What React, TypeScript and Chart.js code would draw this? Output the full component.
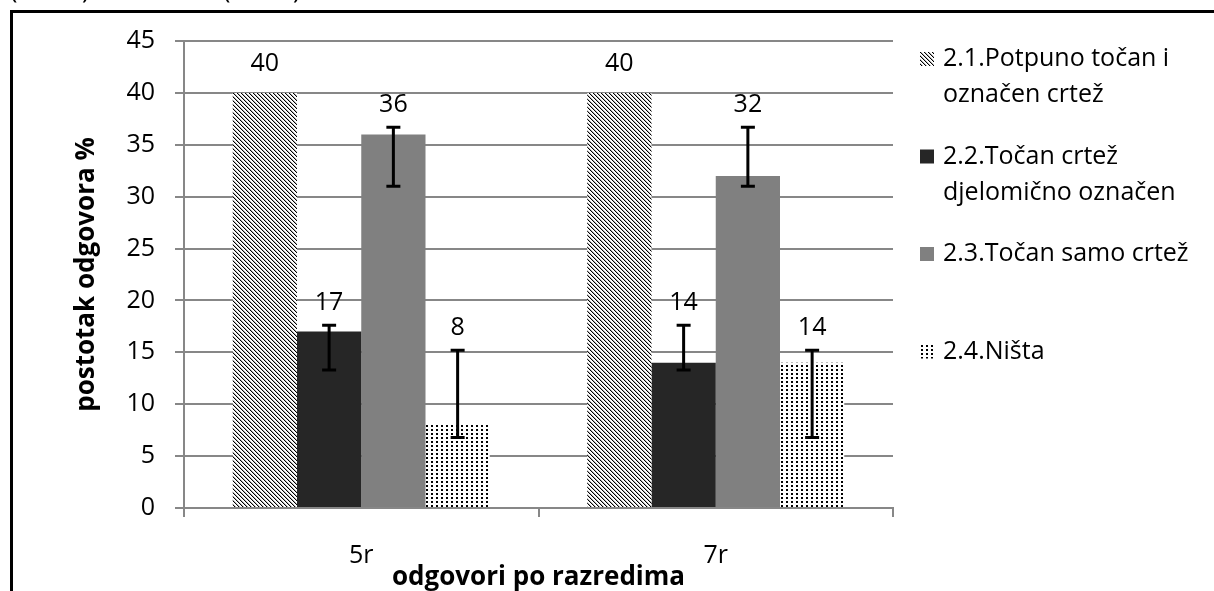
import React, { useEffect, useRef } from 'react';
import { Chart, registerables } from 'chart.js';

Chart.register(...registerables);

// ---- data ----
const categories = ['5r', '7r'];
const seriesLabels = [
  '2.1.Potpuno točan i označen crtež',
  '2.2.Točan crtež djelomično označen',
  '2.3.Točan samo crtež',
  '2.4.Ništa',
];
const potpunoTocan = [40, 40];
const djelomicnoOznacen = [17, 14];
const samoCrtez = [36, 32];
const nista = [8, 14];

const djelomicnoErrLow = [13.3, 13.3];
const djelomicnoErrHigh = [17.6, 17.6];
const samoCrtezErrLow = [31.0, 31.0];
const samoCrtezErrHigh = [36.7, 36.7];
const nistaErrLow = [6.8, 6.8];
const nistaErrHigh = [15.2, 15.2];

const yMin = 0;
const yMax = 45;
const yStep = 5;
const xTitle = 'odgovori po razredima';
const yTitle = 'postotak odgovora %';
const cutHeaderGlyphs = ['(', ')', '(', ')'];

const FONT = '"Open Sans", "DejaVu Sans", sans-serif';

function makeHatch(): CanvasPattern | string {
  const c = document.createElement('canvas');
  c.width = 4;
  c.height = 4;
  const g = c.getContext('2d');
  if (!g) return '#777';
  g.fillStyle = '#fff';
  g.fillRect(0, 0, 4, 4);
  for (let i = 0; i < 4; i++) {
    g.fillStyle = '#000';
    g.fillRect(i, i, 1, 1);
    g.fillStyle = '#b4b4b4';
    g.fillRect((i + 1) % 4, i, 1, 1);
  }
  return g.createPattern(c, 'repeat') || '#777';
}

function makeDots(): CanvasPattern | string {
  const c = document.createElement('canvas');
  c.width = 5;
  c.height = 4;
  const g = c.getContext('2d');
  if (!g) return '#ccc';
  g.fillStyle = '#fff';
  g.fillRect(0, 0, 5, 4);
  g.fillStyle = '#000';
  g.fillRect(1, 1, 2, 2);
  return g.createPattern(c, 'repeat') || '#ccc';
}

function wrapText(ctx: CanvasRenderingContext2D, text: string, maxW: number): string[] {
  const words = text.split(' ');
  const lines: string[] = [];
  let cur = '';
  for (const w of words) {
    const test = cur ? cur + ' ' + w : w;
    if (ctx.measureText(test).width > maxW && cur) {
      lines.push(cur);
      cur = w;
    } else {
      cur = test;
    }
  }
  if (cur) lines.push(cur);
  return lines;
}

const errorBarsPlugin = {
  id: 'errorBars',
  afterDatasetsDraw(chart: any) {
    const ctx = chart.ctx as CanvasRenderingContext2D;
    const yScale = chart.scales.y;
    ctx.save();
    ctx.strokeStyle = '#000';
    ctx.lineWidth = 3;
    chart.data.datasets.forEach((ds: any, di: number) => {
      if (!ds.errLow || !ds.errHigh) return;
      const meta = chart.getDatasetMeta(di);
      meta.data.forEach((bar: any, i: number) => {
        const x = bar.x;
        const yl = yScale.getPixelForValue(ds.errLow[i]);
        const yh = yScale.getPixelForValue(ds.errHigh[i]);
        ctx.beginPath();
        ctx.moveTo(x, yl);
        ctx.lineTo(x, yh);
        ctx.moveTo(x - 7, yl);
        ctx.lineTo(x + 7, yl);
        ctx.moveTo(x - 7, yh);
        ctx.lineTo(x + 7, yh);
        ctx.stroke();
      });
    });
    ctx.restore();
  },
};

const valueLabelsPlugin = {
  id: 'valueLabels',
  afterDatasetsDraw(chart: any) {
    const ctx = chart.ctx as CanvasRenderingContext2D;
    const yScale = chart.scales.y;
    ctx.save();
    ctx.font = `25px ${FONT}`;
    ctx.fillStyle = '#000';
    ctx.textAlign = 'center';
    ctx.textBaseline = 'alphabetic';
    chart.data.datasets.forEach((ds: any, di: number) => {
      const meta = chart.getDatasetMeta(di);
      meta.data.forEach((bar: any, i: number) => {
        let y: number;
        if (ds.errHigh) {
          y = Math.min(bar.y, yScale.getPixelForValue(ds.errHigh[i])) - 15;
        } else {
          y = bar.y - 22;
        }
        ctx.fillText(String(ds.data[i]), bar.x, y);
      });
    });
    ctx.restore();
  },
};

const sideLegendPlugin = {
  id: 'sideLegend',
  afterDraw(chart: any) {
    const ctx = chart.ctx as CanvasRenderingContext2D;
    ctx.save();
    ctx.font = `25px ${FONT}`;
    ctx.textBaseline = 'alphabetic';
    ctx.textAlign = 'left';
    const markerX = 920;
    const textX = 943;
    const firstBase = 66;
    const step = 97.5;
    const lineH = 36;
    chart.data.datasets.forEach((ds: any, i: number) => {
      const base = firstBase + i * step;
      ctx.fillStyle = ds.backgroundColor;
      ctx.fillRect(markerX, base - 14, 14, 14);
      ctx.fillStyle = '#000';
      wrapText(ctx, ds.label, 262).forEach((line, j) => {
        ctx.fillText(line, textX, base + j * lineH);
      });
    });
    ctx.restore();
  },
};

const frameGlyphXs = [10, 82, 223, 293];

const framePlugin = {
  id: 'frame',
  afterDraw(chart: any) {
    const ctx = chart.ctx as CanvasRenderingContext2D;
    ctx.save();
    ctx.strokeStyle = '#000';
    ctx.lineWidth = 3;
    ctx.strokeRect(11.5, 11.5, 1400, 800);
    ctx.font = `25px ${FONT}`;
    ctx.fillStyle = '#000';
    ctx.textBaseline = 'alphabetic';
    cutHeaderGlyphs.forEach((g, i) => {
      ctx.fillText(g, frameGlyphXs[i], -2);
    });
    ctx.restore();
  },
};

export default function App() {
  const ref = useRef<HTMLCanvasElement | null>(null);

  useEffect(() => {
    const canvas = ref.current;
    if (!canvas) return;
    Chart.defaults.font.family = FONT;
    const hatch = makeHatch();
    const dots = makeDots();
    const common = { categoryPercentage: 0.725, barPercentage: 1.0, borderWidth: 0 };
    const chart = new Chart(canvas, {
      type: 'bar',
      data: {
        labels: categories,
        datasets: [
          { label: seriesLabels[0], data: potpunoTocan, backgroundColor: hatch, ...common } as any,
          {
            label: seriesLabels[1],
            data: djelomicnoOznacen,
            backgroundColor: '#262626',
            errLow: djelomicnoErrLow,
            errHigh: djelomicnoErrHigh,
            ...common,
          } as any,
          {
            label: seriesLabels[2],
            data: samoCrtez,
            backgroundColor: '#808080',
            errLow: samoCrtezErrLow,
            errHigh: samoCrtezErrHigh,
            ...common,
          } as any,
          {
            label: seriesLabels[3],
            data: nista,
            backgroundColor: dots,
            errLow: nistaErrLow,
            errHigh: nistaErrHigh,
            ...common,
          } as any,
        ],
      },
      options: {
        animation: false,
        responsive: false,
        devicePixelRatio: 1,
        layout: { padding: { left: 74, right: 321, top: 41, bottom: 0 } },
        plugins: {
          legend: { display: false },
          tooltip: { enabled: false },
        },
        scales: {
          x: {
            grid: {
              drawOnChartArea: false,
              color: '#878787',
              lineWidth: 2,
              tickLength: 9,
              offset: true,
            },
            border: { color: '#878787', width: 2 },
            ticks: { font: { size: 25 }, color: '#000', padding: 24 },
            title: {
              display: true,
              text: xTitle,
              color: '#000',
              font: { size: 26, weight: 'bold', lineHeight: 1 },
              padding: 0,
            },
            afterFit: (s: any) => {
              s.height = 83;
            },
          } as any,
          y: {
            min: yMin,
            max: yMax,
            ticks: { stepSize: yStep, font: { size: 25 }, color: '#000', padding: 20 },
            grid: { color: '#878787', lineWidth: 2, tickLength: 9 },
            border: { color: '#878787', width: 2 },
            title: {
              display: true,
              text: yTitle,
              color: '#000',
              font: { size: 26, weight: 'bold', lineHeight: 1 },
              padding: 0,
            },
            afterFit: (s: any) => {
              s.width = 110;
            },
          } as any,
        },
      },
      plugins: [errorBarsPlugin, valueLabelsPlugin, sideLegendPlugin, framePlugin],
    });
    return () => chart.destroy();
  }, []);

  return (
    <div
      style={{
        position: 'absolute',
        left: 0,
        top: 0,
        width: 1214,
        height: 591,
        overflow: 'hidden',
        background: '#fff',
      }}
    >
      <canvas ref={ref} width={1214} height={591} style={{ display: 'block' }} />
    </div>
  );
}
